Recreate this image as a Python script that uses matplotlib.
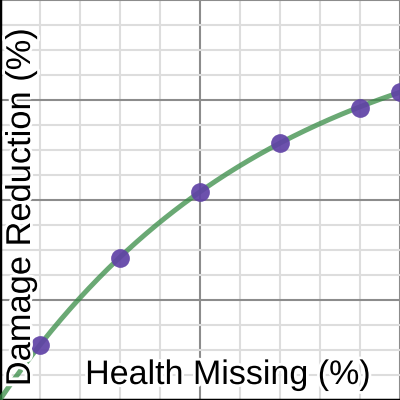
import matplotlib.pyplot as plt
import matplotlib.patheffects as pe
import numpy as np

# Data
health_missing = [10, 30, 50, 70, 90, 100]
damage_reduction = [5.5, 14.2, 20.8, 25.7, 29.2, 30.8]

x_label = 'Health Missing (%)'
y_label = 'Damage Reduction (%)'

# Fit y = A * (1 - exp(-k x)) to the points (trend line)
xd = np.array(health_missing, dtype=float)
yd = np.array(damage_reduction, dtype=float)
best = None
for k in np.linspace(0.001, 0.05, 2000):
    basis = 1 - np.exp(-k * xd)
    A = (basis @ yd) / (basis @ basis)
    err = np.sum((A * basis - yd) ** 2)
    if best is None or err < best[0]:
        best = (err, A, k)
_, A_fit, k_fit = best
xs = np.linspace(0, 101, 300)
ys = A_fit * (1 - np.exp(-k_fit * xs))

fig = plt.figure(figsize=(4, 4), dpi=100)
ax = fig.add_axes([0, 0, 1, 1])
ax.set_xlim(0.1, 100.1)
ax.set_ylim(-0.05, 39.95)

# Grid: minor every 10 / 2.5, major every 50 / 10
ax.set_xticks([0, 50, 100])
ax.set_xticks(np.arange(0, 101, 10), minor=True)
ax.set_yticks([0, 10, 20, 30, 40])
ax.set_yticks(np.arange(0, 40, 2.5), minor=True)
ax.tick_params(which='both', length=0, labelbottom=False, labelleft=False)
ax.grid(which='minor', color='#dddddd', linewidth=1.5, zorder=0)
ax.grid(which='major', color='#8c8c8c', linewidth=1.5, zorder=0)
ax.set_axisbelow(True)

for s in ['top', 'right']:
    ax.spines[s].set_visible(False)
for s in ['left', 'bottom']:
    ax.spines[s].set_color('black')
    ax.spines[s].set_linewidth(2.5)

ax.plot(xs, ys, color='#388c46', alpha=0.75, linewidth=3.6, zorder=3,
        solid_capstyle='butt')
ax.plot(health_missing, damage_reduction, 'o', color='#6042a6', alpha=0.92,
        markersize=13.5, markeredgewidth=0, zorder=4)

halo = [pe.withStroke(linewidth=4, foreground='white')]
ax.text(0.57, 0.04, x_label, transform=ax.transAxes, ha='center',
        va='baseline', fontsize=24.5, family='Liberation Sans',
        path_effects=halo, zorder=5)
ax.text(0.075, 0.483, y_label, transform=ax.transAxes, ha='center',
        va='baseline', rotation=90, rotation_mode='anchor', fontsize=24.8,
        family='Liberation Sans', path_effects=halo, zorder=5)

fig.savefig('out.png', dpi=100)
